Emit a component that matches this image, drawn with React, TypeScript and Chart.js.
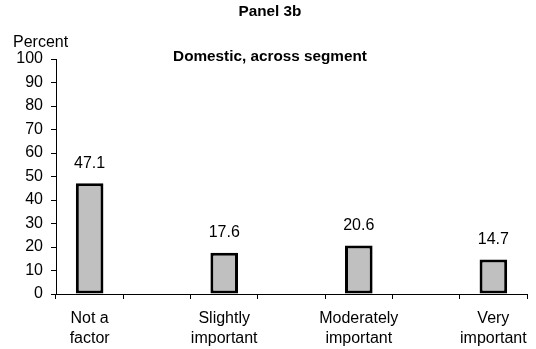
import React, { useEffect, useRef } from "react";
import { Chart, registerables } from "chart.js";

Chart.register(...registerables);

const categories: (string | string[])[] = [
  ["Not a", "factor"],
  "",
  ["Slightly", "important"],
  "",
  ["Moderately", "important"],
  "",
  ["Very", "important"],
];
const values: (number | null)[] = [47.1, null, 17.6, null, 20.6, null, 14.7];
const yTicks = { min: 0, max: 100, step: 10 };
const titleText = "Panel 3b";
const subtitleText = "Domestic, across segment";
const yAxisTitle = "Percent";

const FONT = "'Liberation Sans', Arial, Helvetica, sans-serif";

const textPlugin = {
  id: "textPlugin",
  afterDatasetsDraw(chart: any) {
    const ctx = chart.ctx;
    ctx.save();
    ctx.fillStyle = "#000";
    ctx.textBaseline = "middle";
    ctx.font = `16px ${FONT}`;
    ctx.textAlign = "center";
    const meta = chart.getDatasetMeta(0);
    meta.data.forEach((el: any, i: number) => {
      const v = values[i];
      if (v == null) return;
      ctx.fillText(v.toFixed(1), el.x, el.y - 20);
    });
    ctx.font = `bold 15.3px ${FONT}`;
    ctx.fillText(titleText, 270, 12);
    ctx.fillText(subtitleText, 270, 57);
    ctx.font = `16px ${FONT}`;
    ctx.textAlign = "left";
    ctx.fillText(yAxisTitle, 13, 43);
    ctx.restore();
  },
};

export default function App() {
  const ref = useRef<HTMLCanvasElement>(null);
  useEffect(() => {
    if (!ref.current) return;
    const chart = new Chart(ref.current, {
      type: "bar",
      data: {
        labels: categories as any,
        datasets: [
          {
            data: values as any,
            backgroundColor: "#C0C0C0",
            borderColor: "#000",
            borderWidth: 3,
            borderSkipped: false,
            categoryPercentage: 1,
            barPercentage: 0.41,
          },
        ],
      },
      options: {
        responsive: false,
        animation: false,
        layout: { padding: { left: 0, right: 4, top: 59, bottom: 0 } },
        plugins: {
          legend: { display: false },
          tooltip: { enabled: false },
          title: { display: false },
        },
        scales: {
          x: {
            grid: {
              display: true,
              drawOnChartArea: false,
              drawTicks: true,
              tickLength: 5,
              color: "#000",
              offset: true,
            },
            border: { display: true, color: "#000", width: 1 },
            ticks: {
              color: "#000",
              font: { family: FONT, size: 16, lineHeight: 1.27 },
              padding: 9,
              maxRotation: 0,
              autoSkip: false,
            },
            afterFit: (scale: any) => {
              scale.height = 55;
            },
          },
          y: {
            min: yTicks.min,
            max: yTicks.max,
            grid: {
              display: true,
              drawOnChartArea: false,
              drawTicks: true,
              tickLength: 5,
              color: "#000",
            },
            border: { display: true, color: "#000", width: 1 },
            ticks: {
              stepSize: yTicks.step,
              color: "#000",
              font: { family: FONT, size: 16 },
              padding: 8,
            },
            afterFit: (scale: any) => {
              scale.width = 56;
            },
          },
        },
      },
      plugins: [textPlugin],
    });
    return () => chart.destroy();
  }, []);
  return (
    <div style={{ position: "absolute", left: 0, top: 0, width: 536, height: 349, background: "#fff" }}>
      <canvas ref={ref} width={536} height={349} />
    </div>
  );
}
